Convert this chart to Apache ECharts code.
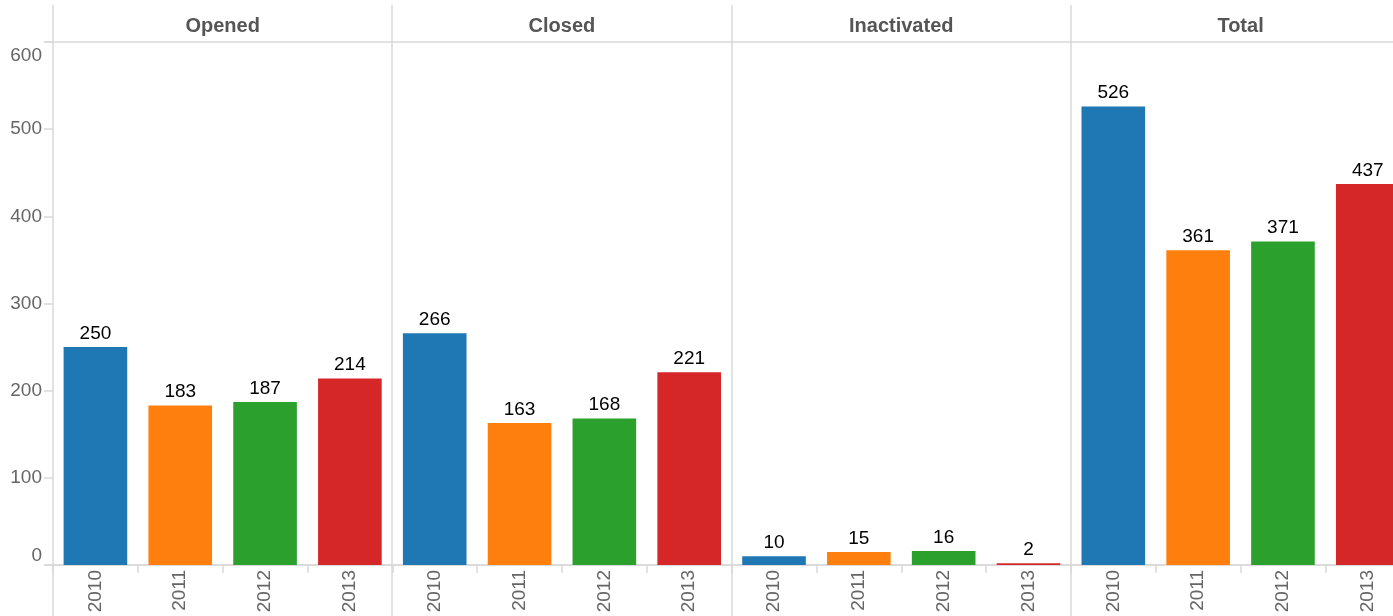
<!DOCTYPE html>
<html>
<head>
<meta charset="utf-8">
<script src="https://cdn.jsdelivr.net/npm/echarts@6/dist/echarts.min.js"></script>
<style>
  html, body { margin: 0; padding: 0; background: #fff; overflow: hidden; width: 1393px; height: 616px; }
  #chart { width: 1420px; height: 616px; }
</style>
</head>
<body>
<div id="chart"></div>
<script>
// ---- data ----
const years = ['2010', '2011', '2012', '2013'];
const panels = ['Opened', 'Closed', 'Inactivated', 'Total'];
const opened = [250, 183, 187, 214];
const closed = [266, 163, 168, 221];
const inactivated = [10, 15, 16, 2];
const total = [526, 361, 371, 437];
const yTicks = [0, 100, 200, 300, 400, 500, 600];
const yearColors = ['#1f77b4', '#ff7f0e', '#2ca02c', '#d62728'];

const panelValues = [opened, closed, inactivated, total];

// ---- layout ----
const W = 1420, H = 616;
const plotLeft = 53, panelW = 339.3, plotTop = 42, plotBottomY = 565;
const lineColor = '#d9d9d9';
const font = 'Liberation Sans, Arial, Helvetica, sans-serif';

const chart = echarts.init(document.getElementById('chart'), null, { renderer: 'canvas' });

const grids = [], xAxes = [], yAxes = [], series = [], titles = [], graphics = [];

panels.forEach((name, i) => {
  const left = plotLeft + i * panelW;
  grids.push({ left: left, top: plotTop, width: panelW, height: plotBottomY - plotTop, containLabel: false });
  xAxes.push({
    type: 'category', gridIndex: i, data: years,
    axisLine: { show: true, lineStyle: { color: lineColor, width: 1.5 } },
    axisTick: { show: true, alignWithLabel: false, length: 8, lineStyle: { color: lineColor, width: 1.5 },
                interval: 0 },
    axisLabel: { rotate: 90, color: '#666', fontSize: 19, fontFamily: font, margin: 5 }
  });
  yAxes.push({
    type: 'value', gridIndex: i, min: yTicks[0], max: yTicks[yTicks.length - 1], interval: 100,
    axisLine: { show: false },
    axisTick: { show: i === 0, length: 9, lineStyle: { color: lineColor, width: 1.5 } },
    axisLabel: { show: i === 0, color: '#666', fontSize: 19, fontFamily: font, margin: 11,
                 padding: [4, 0, 0, 0],
                 verticalAlignMinLabel: 'bottom', verticalAlignMaxLabel: 'top' },
    splitLine: { show: false }
  });
  series.push({
    type: 'bar', xAxisIndex: i, yAxisIndex: i,
    data: panelValues[i].map((v, k) => ({ value: v, itemStyle: { color: yearColors[k] } })),
    barCategoryGap: '25%',
    label: { show: true, position: 'top', distance: 4, color: '#000', fontSize: 19, fontFamily: font },
    silent: true
  });
  titles.push({
    text: name, left: left + panelW / 2, top: 16, textAlign: 'center', padding: 0,
    textStyle: { fontSize: 20, fontWeight: 'bold', color: '#555', fontFamily: font }
  });
  graphics.push({
    type: 'line', shape: { x1: Math.round(left), y1: 5, x2: Math.round(left), y2: H },
    style: { stroke: lineColor, lineWidth: 1.5 }, silent: true
  });
});

// header bottom line
graphics.push({
  type: 'line', shape: { x1: plotLeft - 9, y1: plotTop, x2: W, y2: plotTop },
  style: { stroke: lineColor, lineWidth: 1.5 }, silent: true
});
// baseline extension
graphics.push({
  type: 'line', shape: { x1: plotLeft - 9, y1: plotBottomY, x2: W, y2: plotBottomY },
  style: { stroke: lineColor, lineWidth: 1.5 }, silent: true
});

chart.setOption({
  animation: false,
  backgroundColor: '#fff',
  title: titles,
  grid: grids,
  xAxis: xAxes,
  yAxis: yAxes,
  series: series,
  graphic: graphics
});
</script>
</body>
</html>
